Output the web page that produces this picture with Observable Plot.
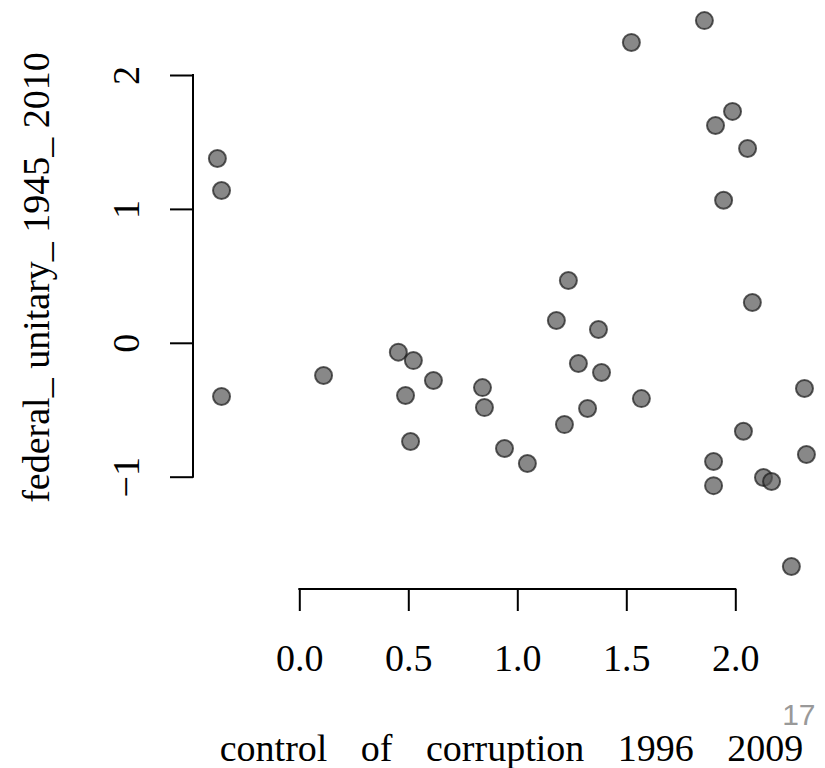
<!DOCTYPE html>
<html><head><meta charset="utf-8">
<script src="https://cdn.jsdelivr.net/npm/d3@7"></script>
<script src="https://cdn.jsdelivr.net/npm/@observablehq/plot@0.6"></script>
<style>body{margin:0;background:#fff} svg{display:block}</style>
</head><body><div id="chart"></div>
<script>
// control of corruption 1996-2009 (x) and federal/unitary 1945-2010 (y)
const controlOfCorruption = [-0.378, -0.359, -0.359, 0.109, 0.452, 0.521, 0.485, 0.613, 0.508, 0.838, 0.847, 0.939, 1.044, 1.177, 1.232, 1.278, 1.370, 1.384, 1.214, 1.320, 1.567, 1.521, 1.856, 1.907, 1.985, 2.054, 1.944, 2.076, 2.035, 1.898, 1.898, 2.127, 2.164, 2.255, 2.315, 2.324];
const federalUnitary = [1.380, 1.141, -0.397, -0.240, -0.066, -0.129, -0.390, -0.278, -0.733, -0.331, -0.480, -0.786, -0.898, 0.170, 0.469, -0.151, 0.103, -0.218, -0.607, -0.487, -0.413, 2.247, 2.410, 1.627, 1.732, 1.455, 1.068, 0.305, -0.657, -0.883, -1.063, -1.002, -1.032, -1.667, -0.337, -0.830];
const xTicks = [0, 0.5, 1, 1.5, 2];
const yTicks = [-1, 0, 1, 2];
const xTitle = "control of corruption 1996 2009";
const yTitle = "federal_ unitary_ 1945_ 2010";
const pageNumber = "17";

const points = controlOfCorruption.map((x, i) => ({x, y: federalUnitary[i]}));
const serif = "'Liberation Serif', 'DejaVu Serif', serif";
const W = 825, H = 768, ML = 193, MB = 179;

const plot = Plot.plot({
  width: W, height: H,
  marginLeft: ML, marginRight: 0, marginTop: 0, marginBottom: MB,
  x: {domain: [0, 2], range: [299.3, 735.3]},
  y: {domain: [-1, 2], range: [476.7, 75]},
  style: {fontFamily: serif, fontSize: "38px", color: "black", background: "white", overflow: "visible"},
  marks: [
    Plot.axisX(xTicks, {anchor: "bottom", tickSize: 22, tickPadding: 33, strokeWidth: 2, tickFormat: d3.format(".1f"), label: null}),
    Plot.axisY(yTicks, {anchor: "left", tickSize: 23, strokeWidth: 2, tickFormat: () => "", label: null}),
    Plot.text(yTicks, {y: d => d, frameAnchor: "left", textAnchor: "middle", dx: -67, rotate: -90, text: d => (d < 0 ? "\u2212" + (-d) : String(d)), fontSize: 38}),
    Plot.text([xTitle], {frameAnchor: "bottom", textAnchor: "middle", dx: 2, dy: 171, text: d => d, fontSize: 38}),
    Plot.text([yTitle], {frameAnchor: "left", textAnchor: "middle", dx: -157, dy: -17.5, rotate: -90, text: d => d, fontSize: 38}),
    Plot.text([pageNumber], {frameAnchor: "bottom-right", dx: -10, dy: 135, textAnchor: "end", text: d => d, fontSize: 30, fill: "#999999", fontFamily: "'Liberation Sans', sans-serif"}),
    Plot.dot(points, {x: "x", y: "y", r: 8.5, fill: "#555555", fillOpacity: 0.7, stroke: "#1a1a1a", strokeOpacity: 0.7, strokeWidth: 2})
  ]
});

const sx = plot.scale("x"), sy = plot.scale("y");
const svg = d3.select(plot);
svg.insert("line", ":first-child")
  .attr("x1", sx.apply(xTicks[0])).attr("x2", sx.apply(xTicks[xTicks.length - 1]))
  .attr("y1", H - MB).attr("y2", H - MB)
  .attr("stroke", "black").attr("stroke-width", 2).attr("stroke-linecap", "square");
svg.insert("line", ":first-child")
  .attr("x1", ML).attr("x2", ML)
  .attr("y1", sy.apply(yTicks[0])).attr("y2", sy.apply(yTicks[yTicks.length - 1]))
  .attr("stroke", "black").attr("stroke-width", 2).attr("stroke-linecap", "square");
svg.selectAll("text").filter(function () { return this.textContent === xTitle; })
  .style("word-spacing", "24px");
document.getElementById("chart").appendChild(plot);
</script>
</body></html>
